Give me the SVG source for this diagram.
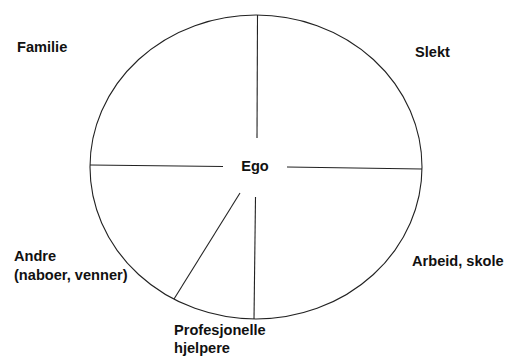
<svg xmlns="http://www.w3.org/2000/svg" width="510" height="356" viewBox="0 0 510 356">
<style>
.lbl{font-family:"Liberation Sans",Arial,sans-serif;font-weight:bold;font-size:14.6px;fill:#111}
.ln{stroke:#222;stroke-width:1.1;fill:none}
</style>
<rect width="510" height="356" fill="#fff"/>
<g id="circle"><ellipse class="ln" cx="256" cy="167" rx="166" ry="152"/></g>
<g id="connectors">
<line class="ln" x1="257.5" y1="15" x2="257" y2="138"/>
<line class="ln" x1="90" y1="165" x2="223" y2="166.5"/>
<line class="ln" x1="287" y1="167" x2="422" y2="169"/>
<line class="ln" x1="255.5" y1="197" x2="254" y2="319"/>
<line class="ln" x1="240" y1="193" x2="174" y2="299"/>
</g>
<g id="ego"><text class="lbl" x="255" y="171" text-anchor="middle">Ego</text></g>
<g id="familie"><text class="lbl" x="17" y="52">Familie</text></g>
<g id="slekt"><text class="lbl" x="415" y="57">Slekt</text></g>
<g id="arbeid"><text class="lbl" x="412" y="266">Arbeid, skole</text></g>
<g id="andre"><text class="lbl" x="14" y="261">Andre</text><text class="lbl" x="14" y="280">(naboer, venner)</text></g>
<g id="prof"><text class="lbl" x="174" y="335">Profesjonelle</text><text class="lbl" x="174" y="353">hjelpere</text></g>
</svg>
